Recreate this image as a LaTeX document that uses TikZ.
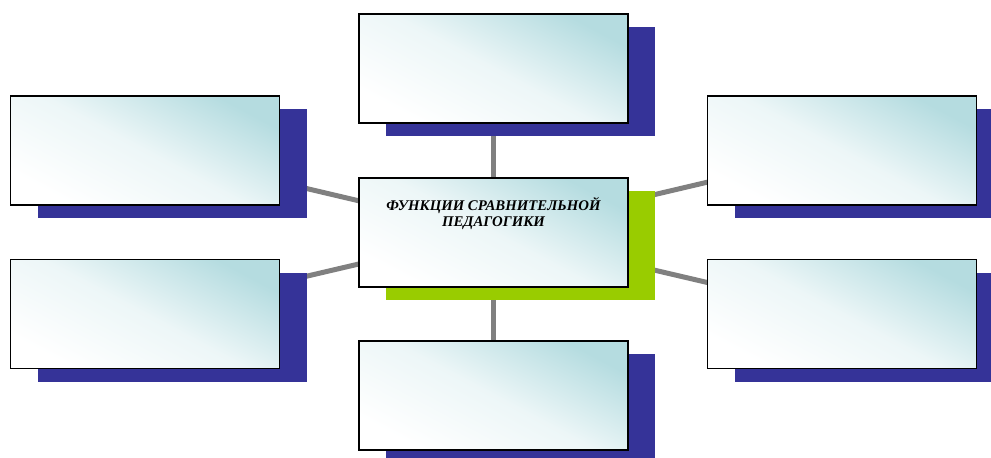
\documentclass[tikz,border=0pt]{standalone}
\usepackage{fontspec}
\setmainfont{Liberation Serif}
\usetikzlibrary{positioning, shadows, backgrounds}
\definecolor{funcTeal}{HTML}{B5DCE0}
\definecolor{funcNavy}{HTML}{353398}
\definecolor{funcGreen}{HTML}{99CC00}
\definecolor{funcGray}{HTML}{808080}

\begin{document}
\begin{tikzpicture}[
        x=1pt, y=-1pt,
        font=\fontsize{14.8}{16.5}\selectfont\bfseries\itshape,
        card/.style={rectangle, draw=black, line width=1.6pt, minimum width=269pt, minimum height=109pt,
            top color=funcTeal, bottom color=white, middle color=funcTeal!25!white, shading angle=-28,
            drop shadow={shadow xshift=27pt, shadow yshift=-13pt, fill=funcNavy, opacity=1}},
        hub/.style={card, drop shadow={shadow xshift=27pt, shadow yshift=-13pt, fill=funcGreen, opacity=1}},
        link/.style={line width=5pt, draw=funcGray},
        title/.style={align=center, inner sep=0pt}
    ]
        \useasboundingbox (0,0) rectangle (991,458);

        % --- Centre ---
        \node[hub] (c) at (493.5, 232.5) {};
        \node[title, anchor=north] (ct) at (493.5, 197) {ФУНКЦИИ СРАВНИТЕЛЬНОЙ\\ПЕДАГОГИКИ};

        % --- Surrounding cards ---
        \node[card] (t)  at (493.5, 68.5) {};
        \node[card] (b)  at (493.5, 395.5) {};
        \node[card] (lt) at (145, 150.5) {};
        \node[card] (lb) at (145, 314) {};
        \node[card] (rt) at (842, 150.5) {};
        \node[card] (rb) at (842, 314) {};

        % --- Links behind everything ---
        \begin{scope}[on background layer]
            \draw[link] (c.center) -- (t.center);
            \draw[link] (c.center) -- (b.center);
            \draw[link] (c.center) -- (lt.center);
            \draw[link] (c.center) -- (lb.center);
            \draw[link] (c.center) -- (rt.center);
            \draw[link] (c.center) -- (rb.center);
        \end{scope}
    \end{tikzpicture}
\end{document}
